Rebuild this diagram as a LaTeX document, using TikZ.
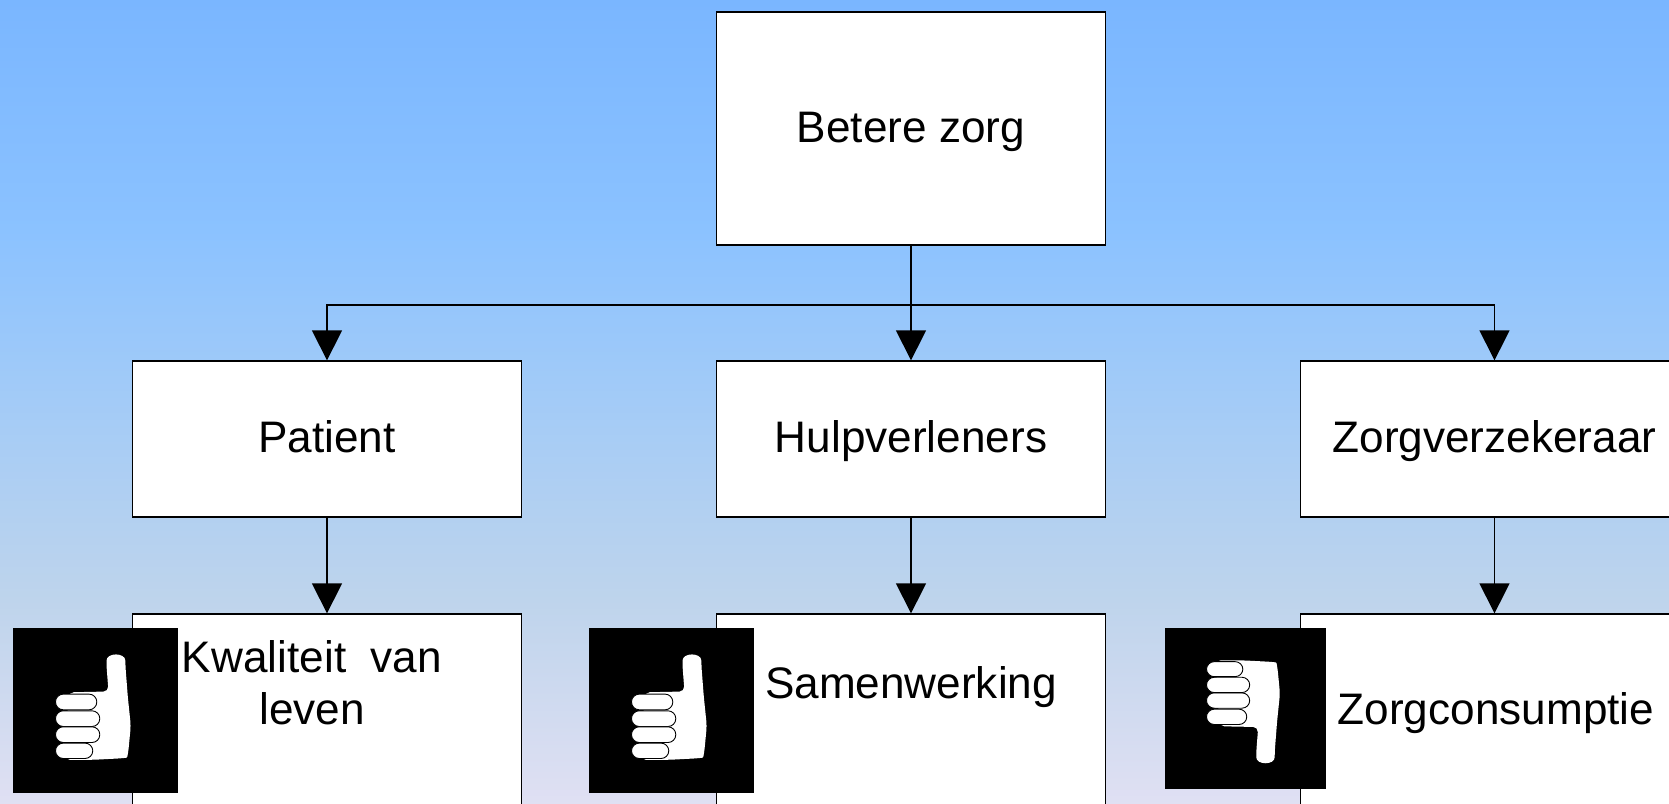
\documentclass[tikz,border=0pt]{standalone}
\usepackage{fontspec}
\setmainfont{Liberation Sans}
\usepackage{xcolor}
\usetikzlibrary{arrows.meta}

\definecolor{luchtA}{RGB}{122,182,255}
\definecolor{luchtB}{RGB}{139,194,255}
\definecolor{luchtC}{RGB}{160,202,248}
\definecolor{luchtD}{RGB}{190,212,236}
\definecolor{luchtE}{RGB}{224,224,243}
\pgfdeclareverticalshading{lucht}{100bp}{color(0bp)=(luchtE); color(25bp)=(luchtE); color(37.7bp)=(luchtD); color(51.4bp)=(luchtC); color(60.7bp)=(luchtB); color(75bp)=(luchtA); color(100bp)=(luchtA)}

\tikzset{
    doos/.style={shape=rectangle,draw=black,fill=white,line width=1.3pt,minimum width=388.5bp,inner sep=0pt,text height=33bp,text depth=6bp,font=\fontsize{44.3}{52}\selectfont},
    tekst/.style={align=center,inner sep=0pt,anchor=base,font=\fontsize{44.3}{52}\selectfont},
    duimvak/.style={shape=rectangle,fill=black,inner sep=0pt},
    pijl/.style={draw=black,line width=1.3pt,-{Triangle[length=30bp,width=30bp]}},
    vinger/.style={fill=white,draw=black,line width=0.9pt,rounded corners=7.8bp},
    duim/.pic={
        \fill[white,rounded corners=5bp] (56,64.5) -- (95.7,63.7) -- (93.7,38)
            .. controls (93.7,24.5) and (112.6,24.5) .. (112.6,38)
            -- (115,69) -- (118,98) -- (115.5,124) .. controls (114.5,129) and (113,130) .. (109,130.5) -- (80,132) -- (52,132) -- cycle;
        \filldraw[vinger] (42.7,66.3) rectangle (84,82);
        \filldraw[vinger] (42.7,83) rectangle (87,98.7);
        \filldraw[vinger] (42.7,99) rectangle (87,114.7);
        \filldraw[vinger] (42.7,115.3) rectangle (80,130.7);
    }
}

\begin{document}
\begin{tikzpicture}[x=1bp,y=-1bp]
                    \useasboundingbox (0,0) rectangle (1669,804);
                    \clip (0,0) rectangle (1669,804);
                    \shade[shading=lucht] (0,0) rectangle (1669,804);

                    \node[doos,minimum height=233bp] (Zorg) at (911,128.5) {Betere zorg};
                    \node[doos,minimum height=156bp] (Patient) at (327,439) {Patient};
                    \node[doos,minimum height=156bp] (Hulp) at (911,439) {Hulpverleners};
                    \node[doos,minimum height=156bp] (Verzekeraar) at (1494.5,439) {Zorgverzekeraar};
                    \node[doos,minimum height=240bp] (Kwaliteit) at (327,734) {};
                    \node[doos,minimum height=240bp] (Samenwerking) at (911,734) {};
                    \node[doos,minimum height=240bp] (Consumptie) at (1494.5,734) {};

                    \coordinate (Splitsing) at (911,305);

                    \draw[line width=1.3pt] (Zorg) -- (Splitsing);
                    \draw[pijl] (Splitsing) -| (Patient);
                    \draw[pijl] (Splitsing) -- (Hulp);
                    \draw[pijl] (Splitsing) -| (Verzekeraar);
                    \draw[pijl] (Patient) -- (Kwaliteit);
                    \draw[pijl] (Hulp) -- (Samenwerking);
                    \draw[pijl] (Verzekeraar) -- (Consumptie);

                    \node[tekst] (KwaliteitTekst) at (312,724) {Kwaliteit\ \ van\\leven};
                    \node[tekst] (SamenwerkingTekst) at (911,698) {Samenwerking};
                    \node[tekst] (ConsumptieTekst) at (1496,724) {Zorgconsumptie};

                    \node[duimvak,minimum width=165bp,minimum height=165bp] (DuimA) at (95.5,710.5) {};
                    \node[duimvak,minimum width=165bp,minimum height=165bp] (DuimB) at (671.5,710.5) {};
                    \node[duimvak,minimum width=161bp,minimum height=161bp] (DuimC) at (1245.5,708.5) {};

                    \pic at (DuimA.north west) {duim};
                    \pic at (DuimB.north west) {duim};
                    \pic[xscale=.976,yscale=-.976] at (DuimC.south west) {duim};
                \end{tikzpicture}
\end{document}
